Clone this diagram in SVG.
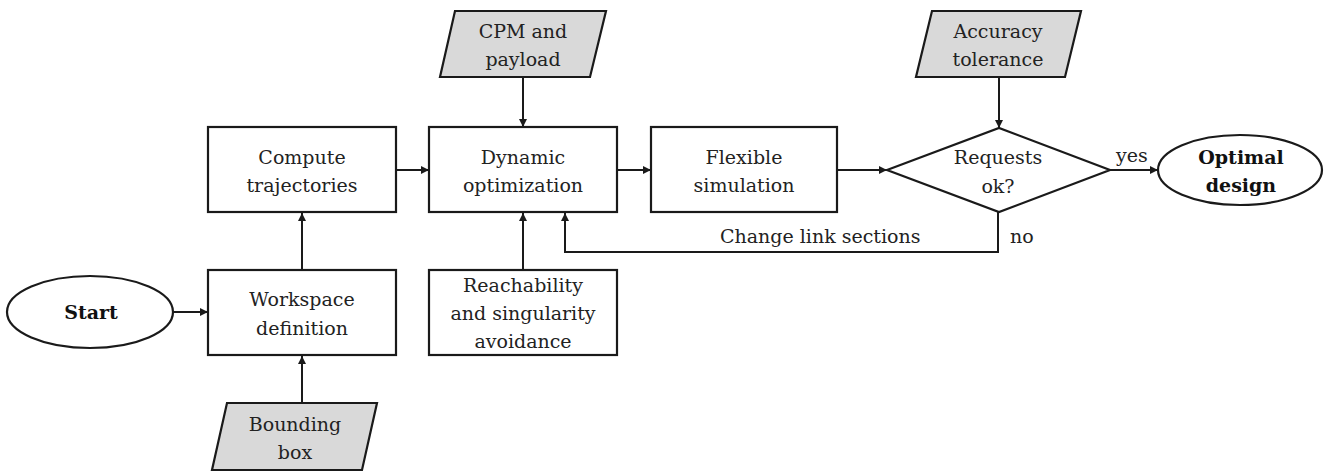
<svg xmlns="http://www.w3.org/2000/svg" width="1326" height="473" viewBox="0 0 1326 473">
<defs>
<marker id="arr" viewBox="0 0 10 10" refX="10" refY="5" markerWidth="9" markerHeight="8" markerUnits="userSpaceOnUse" orient="auto">
<path d="M0,0 L10,5 L0,10 z" fill="#1a1a1a"/>
</marker>
<style>
.box{fill:#fff;stroke:#1a1a1a;stroke-width:2.2}
.inp{fill:#d9d9d9;stroke:#1a1a1a;stroke-width:2.2}
text{font-family:'DejaVu Serif','Liberation Serif',serif;font-size:19px;fill:#222}
.t{text-anchor:middle}
.b{font-weight:bold;font-size:19px;fill:#111}
.c{fill:none;stroke:#1a1a1a;stroke-width:2;marker-end:url(#arr)}
</style>
</defs>
<rect width="1326" height="473" fill="#fff"/>
<g id="connectors">
<line class="c" x1="174" y1="312" x2="208" y2="312"/>
<line class="c" x1="302" y1="403" x2="302" y2="356"/>
<line class="c" x1="302" y1="270" x2="302" y2="213"/>
<line class="c" x1="396" y1="170" x2="429" y2="170"/>
<line class="c" x1="523" y1="77" x2="523" y2="127"/>
<line class="c" x1="523" y1="270" x2="523" y2="213"/>
<line class="c" x1="617" y1="170" x2="651" y2="170"/>
<line class="c" x1="837" y1="170" x2="887" y2="170"/>
<line class="c" x1="999" y1="77" x2="999" y2="128"/>
<line class="c" x1="1110" y1="170" x2="1158" y2="170"/>
<polyline class="c" points="998,212 998,252 565,252 565,213"/>
<text x="720" y="243">Change link sections</text>
<text x="1010" y="243">no</text>
<text x="1116" y="162">yes</text>
</g>
<g id="start">
<ellipse class="box" cx="90" cy="312" rx="83" ry="36"/>
<text class="t b" x="91" y="319">Start</text>
</g>
<g id="workspace">
<rect class="box" x="208" y="270" width="188" height="85"/>
<text class="t" x="302" y="306">Workspace</text>
<text class="t" x="302" y="335">definition</text>
</g>
<g id="bounding">
<polygon class="inp" points="227,403 377,403 362,470 212,470"/>
<text class="t" x="295" y="431">Bounding</text>
<text class="t" x="295" y="459">box</text>
</g>
<g id="compute">
<rect class="box" x="208" y="127" width="188" height="85"/>
<text class="t" x="302" y="164">Compute</text>
<text class="t" x="302" y="192">trajectories</text>
</g>
<g id="cpm">
<polygon class="inp" points="455,11 606,11 590,77 440,77"/>
<text class="t" x="523" y="38">CPM and</text>
<text class="t" x="523" y="66">payload</text>
</g>
<g id="dynopt">
<rect class="box" x="429" y="127" width="188" height="85"/>
<text class="t" x="523" y="164">Dynamic</text>
<text class="t" x="523" y="192">optimization</text>
</g>
<g id="reach">
<rect class="box" x="429" y="270" width="188" height="85"/>
<text class="t" x="523" y="292">Reachability</text>
<text class="t" x="523" y="320">and singularity</text>
<text class="t" x="523" y="348">avoidance</text>
</g>
<g id="flex">
<rect class="box" x="651" y="127" width="186" height="85"/>
<text class="t" x="744" y="164">Flexible</text>
<text class="t" x="744" y="192">simulation</text>
</g>
<g id="accuracy">
<polygon class="inp" points="932,11 1081,11 1065,77 916,77"/>
<text class="t" x="998" y="38">Accuracy</text>
<text class="t" x="998" y="66">tolerance</text>
</g>
<g id="requests">
<polygon class="box" points="887,170 999,128 1110,170 999,212"/>
<text class="t" x="998" y="164">Requests</text>
<text class="t" x="998" y="193">ok?</text>
</g>
<g id="optimal">
<ellipse class="box" cx="1240" cy="170" rx="82" ry="35"/>
<text class="t b" x="1241" y="164">Optimal</text>
<text class="t b" x="1241" y="192">design</text>
</g>
</svg>
